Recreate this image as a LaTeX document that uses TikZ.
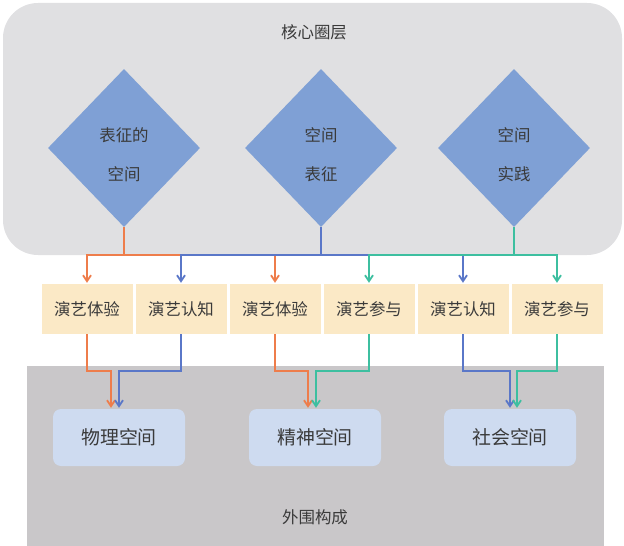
\documentclass[tikz,border=0pt]{standalone}
\usepackage{fontspec}
\setmainfont{Noto Sans CJK SC}
\usetikzlibrary{shapes.geometric,arrows.meta}
\definecolor{corebg}{HTML}{E0E0E2}
\definecolor{outerbg}{HTML}{C9C7C9}
\definecolor{diamondblue}{HTML}{7FA0D5}
\definecolor{actbeige}{HTML}{FBE9C6}
\definecolor{spaceblue}{HTML}{CEDBF0}
\definecolor{textgray}{HTML}{3A3A3A}
\definecolor{orangeline}{HTML}{EE7D4B}
\definecolor{blueline}{HTML}{5A77C8}
\definecolor{tealline}{HTML}{3DBFA0}
\begin{document}
\begin{tikzpicture}[
  x=1bp, y=-1bp,
  >={Straight Barb[length=6bp,width=8bp]},
  diam/.style={diamond, fill=diamondblue, inner sep=0pt, minimum width=152bp, minimum height=158bp},
  dlabel/.style={align=center, font=\fontsize{16.5}{16.5}\selectfont, text=textgray},
  act/.style={fill=actbeige, minimum width=91bp, minimum height=50bp, inner sep=0pt, font=\fontsize{16.5}{16.5}\selectfont, text=textgray},
  space/.style={fill=spaceblue, rounded corners=8bp, minimum width=132bp, minimum height=57bp, inner sep=0pt, font=\fontsize{19}{19}\selectfont, text=textgray},
  title/.style={font=\fontsize{16.5}{16.5}\selectfont, text=textgray},
  link/.style={line width=1.8bp, shorten >=1bp}
]
\useasboundingbox (0,0) rectangle (624,546);
\fill[corebg, rounded corners=35bp] (3,3) rectangle (622,255);
\fill[outerbg] (27,366) rectangle (604,546);

\node[title] (core) at (314,32) {核心圈层};
\node[title] (outer) at (315,517) {外围构成};

\node[diam] (rep) at (124,148) {};
\node[diam] (spr) at (321,148) {};
\node[diam] (spp) at (514,148) {};
\node[dlabel] (repText) at ([yshift=-7bp]rep.center) {表征的\\[23pt]空间};
\node[dlabel] (sprText) at ([yshift=-7bp]spr.center) {空间\\[23pt]表征};
\node[dlabel] (sppText) at ([yshift=-7bp]spp.center) {空间\\[23pt]实践};

\node[act] (exp1) at (87,309) {演艺体验};
\node[act] (cog1) at (181,309) {演艺认知};
\node[act] (exp2) at (275,309) {演艺体验};
\node[act] (par1) at (369,309) {演艺参与};
\node[act] (cog2) at (463,309) {演艺认知};
\node[act] (par2) at (557,309) {演艺参与};

\node[space] (phys) at (119,437.5) {物理空间};
\node[space] (mind) at (315,437.5) {精神空间};
\node[space] (soc) at (510,437.5) {社会空间};

\draw[link, orangeline, ->] (rep.south) -- ++(0,28) -| (exp1.north);
\draw[link, orangeline, ->] (rep.south) -- ++(0,28) -| (exp2.north);
\draw[link, blueline, ->] (spr.south) -- ++(0,28) -| (cog1.north);
\draw[link, blueline, ->] (spr.south) -- ++(0,28) -| (cog2.north);
\draw[link, tealline, ->] (spp.south) -- ++(0,28) -| (par1.north);
\draw[link, tealline, ->] (spp.south) -- ++(0,28) -| (par2.north);

\draw[link, orangeline, ->] (exp1.south) -- ++(0,37) -| ([xshift=-8bp]phys.north);
\draw[link, blueline, ->] (cog1.south) -- ++(0,37) -| ([xshift=0bp]phys.north);
\draw[link, orangeline, ->] (exp2.south) -- ++(0,37) -| ([xshift=-7bp]mind.north);
\draw[link, tealline, ->] (par1.south) -- ++(0,37) -| ([xshift=1bp]mind.north);
\draw[link, blueline, ->] (cog2.south) -- ++(0,37) -| ([xshift=0bp]soc.north);
\draw[link, tealline, ->] (par2.south) -- ++(0,37) -| ([xshift=7bp]soc.north);
\end{tikzpicture}
\end{document}
